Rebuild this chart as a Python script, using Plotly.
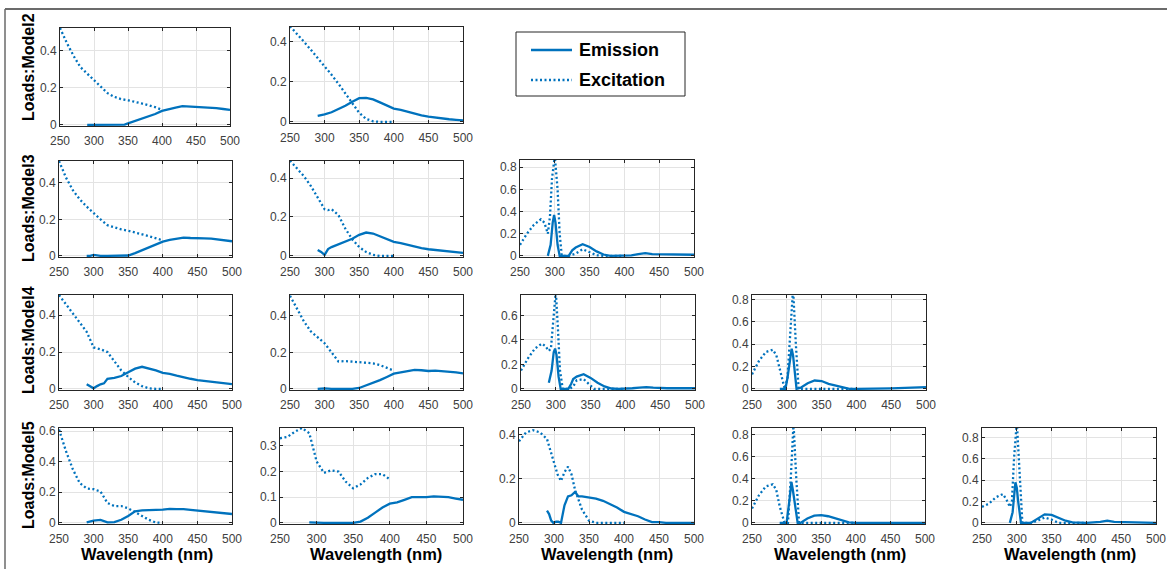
import plotly.graph_objects as go

W, H = 1167, 569
BLUE = "#0072BD"
FONT = "Liberation Sans, Arial, sans-serif"

# ---------------- data ----------------
wl_ex = [250, 260, 270, 280, 290, 300, 310, 320, 330, 340, 350, 360, 370, 380, 390, 400]

# Model2, component 1
m2c1_ex_x = wl_ex
m2c1_ex_y = [0.52, 0.44, 0.37, 0.31, 0.275, 0.24, 0.2, 0.17, 0.15, 0.138, 0.132, 0.125, 0.115, 0.105, 0.095, 0.08]
m2c1_em_x = [290, 300, 310, 320, 330, 340, 345, 350, 360, 370, 380, 390, 400, 410, 420, 430, 440, 450, 460, 470, 480, 490, 500]
m2c1_em_y = [0, 0, 0, 0, 0, 0, 0.001, 0.008, 0.02, 0.032, 0.045, 0.058, 0.075, 0.085, 0.093, 0.1, 0.098, 0.094, 0.095, 0.094, 0.09, 0.085, 0.08]

# Model2, component 2
m2c2_ex_x = wl_ex
m2c2_ex_y = [0.477, 0.44, 0.4, 0.36, 0.32, 0.28, 0.235, 0.19, 0.14, 0.09, 0.045, 0.015, 0.003, 0, 0, 0]
m2c2_em_x = [290, 300, 310, 320, 330, 340, 350, 360, 370, 380, 390, 400, 410, 420, 430, 440, 450, 460, 470, 480, 490, 500]
m2c2_em_y = [0.03, 0.037, 0.048, 0.062, 0.08, 0.1, 0.118, 0.12, 0.112, 0.097, 0.08, 0.066, 0.06, 0.05, 0.04, 0.032, 0.026, 0.021, 0.017, 0.013, 0.01, 0.007]

# Model3, component 1
m3c1_ex_x = wl_ex
m3c1_ex_y = [0.52, 0.43, 0.36, 0.31, 0.27, 0.234, 0.2, 0.168, 0.155, 0.145, 0.138, 0.13, 0.118, 0.108, 0.097, 0.085]
m3c1_em_x = [290, 295, 300, 305, 310, 320, 330, 340, 350, 360, 370, 380, 390, 400, 410, 420, 430, 440, 450, 460, 470, 480, 490, 500]
m3c1_em_y = [0, 0, 0.005, 0.002, 0, 0, 0, 0, 0.002, 0.015, 0.03, 0.045, 0.06, 0.078, 0.087, 0.095, 0.1, 0.098, 0.095, 0.096, 0.095, 0.09, 0.085, 0.08]

# Model3, component 2
m3c2_ex_x = [250, 260, 270, 280, 290, 300, 305, 310, 320, 330, 340, 350, 360, 370, 380, 390, 400]
m3c2_ex_y = [0.49, 0.45, 0.41, 0.36, 0.3, 0.24, 0.235, 0.24, 0.21, 0.14, 0.085, 0.045, 0.02, 0.005, 0, 0, 0]
m3c2_em_x = [290, 295, 300, 305, 310, 320, 330, 340, 350, 360, 370, 380, 390, 400, 410, 420, 430, 440, 450, 460, 470, 480, 490, 500]
m3c2_em_y = [0.03, 0.02, 0.005, 0.035, 0.045, 0.058, 0.072, 0.088, 0.108, 0.12, 0.115, 0.1, 0.085, 0.072, 0.066, 0.057, 0.047, 0.04, 0.034, 0.03, 0.026, 0.022, 0.018, 0.015]

# Model3, component 3
m3c3_ex_x = [250, 260, 270, 280, 285, 290, 293, 296, 300, 304, 307, 310, 320, 330, 340, 350, 360, 370, 380, 390, 400]
m3c3_ex_y = [0.1, 0.2, 0.28, 0.33, 0.3, 0.2, 0.35, 0.7, 0.9, 0.6, 0.2, 0, 0, 0.02, 0.06, 0.035, 0.005, 0, 0, 0, 0]
m3c3_em_x = [290, 294, 297, 299, 301, 304, 307, 310, 320, 325, 330, 340, 350, 360, 370, 380, 390, 400, 410, 420, 430, 440, 450, 460, 470, 480, 490, 500]
m3c3_em_y = [0, 0.1, 0.3, 0.37, 0.3, 0.1, 0, 0, 0, 0.05, 0.075, 0.105, 0.08, 0.04, 0.012, 0, 0, 0, 0.005, 0.015, 0.025, 0.015, 0.015, 0.015, 0.012, 0.01, 0.01, 0.01]

# Model4, component 1
m4c1_ex_x = wl_ex
m4c1_ex_y = [0.51, 0.46, 0.41, 0.36, 0.31, 0.225, 0.215, 0.2, 0.15, 0.1, 0.065, 0.035, 0.015, 0.003, 0, 0]
m4c1_em_x = [290, 295, 300, 305, 310, 315, 320, 330, 340, 350, 360, 370, 380, 390, 400, 410, 420, 430, 440, 450, 460, 470, 480, 490, 500]
m4c1_em_y = [0.025, 0.015, 0.003, 0.015, 0.025, 0.03, 0.055, 0.06, 0.07, 0.09, 0.11, 0.12, 0.112, 0.1, 0.087, 0.082, 0.072, 0.062, 0.055, 0.048, 0.043, 0.038, 0.034, 0.03, 0.026]

# Model4, component 2
m4c2_ex_x = wl_ex
m4c2_ex_y = [0.51, 0.44, 0.37, 0.315, 0.285, 0.25, 0.2, 0.15, 0.152, 0.15, 0.145, 0.142, 0.14, 0.13, 0.115, 0.1]
m4c2_em_x = [290, 300, 310, 320, 330, 340, 350, 360, 370, 380, 390, 400, 410, 420, 430, 440, 450, 460, 470, 480, 490, 500]
m4c2_em_y = [0, 0.003, 0, 0, 0, 0, 0.005, 0.018, 0.033, 0.048, 0.065, 0.083, 0.09, 0.097, 0.104, 0.102, 0.098, 0.1, 0.098, 0.095, 0.09, 0.085]

# Model4, component 3
m4c3_ex_x = [250, 260, 270, 280, 285, 290, 293, 296, 300, 303, 306, 310, 320, 325, 330, 340, 350, 355, 360, 380, 400]
m4c3_ex_y = [0.15, 0.25, 0.33, 0.37, 0.35, 0.31, 0.33, 0.55, 0.8, 0.5, 0.15, 0, 0, 0.02, 0.07, 0.08, 0.03, 0, 0, 0, 0]
m4c3_em_x = [290, 294, 297, 299, 301, 304, 307, 310, 318, 322, 325, 330, 340, 350, 360, 370, 380, 390, 400, 410, 420, 430, 440, 450, 460, 480, 500]
m4c3_em_y = [0.05, 0.15, 0.3, 0.33, 0.28, 0.1, 0, 0, 0, 0.04, 0.08, 0.1, 0.12, 0.09, 0.05, 0.02, 0.003, 0, 0, 0.005, 0.01, 0.015, 0.01, 0.005, 0.005, 0.005, 0.005]

# Model4, component 4
m4c4_ex_x = [250, 260, 270, 280, 285, 290, 297, 301, 305, 309, 313, 317, 320, 340, 360, 380, 400]
m4c4_ex_y = [0.13, 0.25, 0.33, 0.35, 0.3, 0.18, 0, 0.1, 0.5, 0.9, 0.4, 0, 0, 0, 0, 0, 0]
m4c4_em_x = [290, 298, 301, 303, 307, 309, 311, 314, 320, 330, 340, 350, 360, 370, 380, 390, 400, 420, 440, 450, 460, 470, 480, 490, 500]
m4c4_em_y = [0, 0, 0.1, 0.2, 0.36, 0.3, 0.15, 0, 0.01, 0.05, 0.075, 0.07, 0.045, 0.03, 0.01, 0, 0, 0, 0, 0.005, 0.007, 0.01, 0.012, 0.013, 0.015]

# Model5, component 1
m5c1_ex_x = wl_ex
m5c1_ex_y = [0.61, 0.47, 0.35, 0.26, 0.225, 0.22, 0.205, 0.13, 0.11, 0.11, 0.095, 0.07, 0.04, 0.02, 0.002, 0]
m5c1_em_x = [290, 300, 310, 320, 330, 340, 350, 360, 370, 380, 390, 400, 410, 420, 430, 440, 450, 460, 470, 480, 490, 500]
m5c1_em_y = [0.003, 0.015, 0.02, 0.003, 0.005, 0.02, 0.045, 0.075, 0.082, 0.085, 0.085, 0.086, 0.092, 0.09, 0.09, 0.085, 0.08, 0.077, 0.073, 0.068, 0.063, 0.058]

# Model5, component 2
m5c2_ex_x = wl_ex
m5c2_ex_y = [0.33, 0.335, 0.355, 0.37, 0.35, 0.24, 0.195, 0.205, 0.2, 0.16, 0.135, 0.15, 0.175, 0.19, 0.19, 0.17]
m5c2_em_x = [290, 300, 310, 320, 330, 340, 350, 360, 370, 380, 390, 400, 410, 420, 430, 440, 450, 460, 470, 480, 490, 500]
m5c2_em_y = [0.002, 0, 0, 0, 0, 0, 0, 0.005, 0.02, 0.04, 0.06, 0.075, 0.08, 0.09, 0.1, 0.1, 0.1, 0.103, 0.102, 0.1, 0.095, 0.09]

# Model5, component 3
m5c3_ex_x = [250, 260, 270, 280, 290, 300, 305, 310, 315, 320, 325, 330, 340, 350, 360, 370, 380, 390, 400]
m5c3_ex_y = [0.37, 0.41, 0.42, 0.41, 0.38, 0.27, 0.22, 0.19, 0.23, 0.255, 0.22, 0.15, 0.06, 0.01, 0, 0, 0, 0, 0]
m5c3_em_x = [290, 293, 296, 299, 303, 306, 310, 315, 320, 325, 330, 335, 340, 350, 360, 370, 380, 390, 400, 410, 420, 430, 440, 450, 460, 480, 500]
m5c3_em_y = [0.055, 0.04, 0.01, 0, 0.005, 0.005, 0, 0.08, 0.12, 0.125, 0.14, 0.12, 0.12, 0.115, 0.11, 0.1, 0.085, 0.07, 0.05, 0.04, 0.03, 0.015, 0.003, 0.003, 0, 0, 0]

# Model5, component 4
m5c4_ex_x = [250, 260, 270, 280, 285, 290, 297, 302, 306, 310, 314, 318, 320, 340, 360, 380, 400]
m5c4_ex_y = [0.13, 0.25, 0.33, 0.35, 0.3, 0.15, 0, 0, 0.4, 0.9, 0.4, 0, 0, 0, 0, 0, 0]
m5c4_em_x = [290, 300, 304, 307, 309, 312, 316, 320, 330, 340, 350, 360, 370, 380, 390, 400, 450, 500]
m5c4_em_y = [0, 0, 0.2, 0.37, 0.3, 0.15, 0, 0, 0.04, 0.065, 0.07, 0.06, 0.04, 0.02, 0.005, 0, 0, 0]

# Model5, component 5
m5c5_ex_x = [250, 260, 270, 280, 285, 290, 293, 296, 300, 304, 308, 320, 330, 340, 350, 360, 380, 400]
m5c5_ex_y = [0.15, 0.18, 0.24, 0.27, 0.22, 0.15, 0.2, 0.6, 0.95, 0.5, 0, 0, 0.02, 0.05, 0.03, 0, 0, 0]
m5c5_em_x = [290, 294, 298, 300, 302, 306, 320, 330, 340, 350, 360, 370, 380, 390, 400, 420, 430, 440, 460, 480, 500]
m5c5_em_y = [0, 0.1, 0.38, 0.33, 0.2, 0, 0, 0.04, 0.08, 0.075, 0.05, 0.02, 0.005, 0, 0, 0.01, 0.02, 0.01, 0.005, 0, 0]

row_labels = ["Loads:Model2", "Loads:Model3", "Loads:Model4", "Loads:Model5"]
x_title = "Wavelength (nm)"
legend_names = ["Emission", "Excitation"]
x_ticks = [250, 300, 350, 400, 450, 500]

panels = [
    # (row, col, ex_x, ex_y, em_x, em_y, y_max, y_dtick)
    (1, 1, m2c1_ex_x, m2c1_ex_y, m2c1_em_x, m2c1_em_y, 0.52, 0.2),
    (1, 2, m2c2_ex_x, m2c2_ex_y, m2c2_em_x, m2c2_em_y, 0.473, 0.2),
    (2, 1, m3c1_ex_x, m3c1_ex_y, m3c1_em_x, m3c1_em_y, 0.52, 0.2),
    (2, 2, m3c2_ex_x, m3c2_ex_y, m3c2_em_x, m3c2_em_y, 0.488, 0.2),
    (2, 3, m3c3_ex_x, m3c3_ex_y, m3c3_em_x, m3c3_em_y, 0.865, 0.2),
    (3, 1, m4c1_ex_x, m4c1_ex_y, m4c1_em_x, m4c1_em_y, 0.51, 0.2),
    (3, 2, m4c2_ex_x, m4c2_ex_y, m4c2_em_x, m4c2_em_y, 0.514, 0.2),
    (3, 3, m4c3_ex_x, m4c3_ex_y, m4c3_em_x, m4c3_em_y, 0.768, 0.2),
    (3, 4, m4c4_ex_x, m4c4_ex_y, m4c4_em_x, m4c4_em_y, 0.84, 0.2),
    (4, 1, m5c1_ex_x, m5c1_ex_y, m5c1_em_x, m5c1_em_y, 0.62, 0.2),
    (4, 2, m5c2_ex_x, m5c2_ex_y, m5c2_em_x, m5c2_em_y, 0.37, 0.1),
    (4, 3, m5c3_ex_x, m5c3_ex_y, m5c3_em_x, m5c3_em_y, 0.43, 0.2),
    (4, 4, m5c4_ex_x, m5c4_ex_y, m5c4_em_x, m5c4_em_y, 0.86, 0.2),
    (4, 5, m5c5_ex_x, m5c5_ex_y, m5c5_em_x, m5c5_em_y, 0.89, 0.2),
]

# ---------------- layout geometry (pixels: left, top, right, bottom) ----------------
boxes = {
    (1, 1): (60, 28, 230, 126), (1, 2): (290, 27, 463, 123),
    (2, 1): (59, 161, 232, 257), (2, 2): (290, 161, 463, 257), (2, 3): (520, 160, 694, 257),
    (3, 1): (59, 295, 232, 390), (3, 2): (290, 295, 463, 390), (3, 3): (521, 295, 695, 390),
    (3, 4): (752, 295, 926, 390),
    (4, 1): (59, 428, 232, 524), (4, 2): (280, 428, 463, 524), (4, 3): (519, 428, 694, 524),
    (4, 4): (752, 428, 925, 524), (4, 5): (982, 428, 1156, 524),
}
row_label_y = {1: 67, 2: 208, 3: 340, 4: 475}
xlabel_x = {1: 147, 2: 376, 3: 607, 4: 840, 5: 1070}


def px(x):
    return x / W


def py(y):
    return 1 - y / H


fig = go.Figure()
layout = {}
AX = "#262626"
GRID = "#e3e3e3"
TICKFONT = dict(family=FONT, size=12, color="#404040")

for i, (r, c, exx, exy, emx, emy, ymax, ydt) in enumerate(panels, start=1):
    l, t, rr, b = boxes[(r, c)]
    xa = "x" if i == 1 else f"x{i}"
    ya = "y" if i == 1 else f"y{i}"
    fig.add_trace(go.Scatter(x=emx, y=emy, mode="lines", name=legend_names[0],
                             line=dict(color=BLUE, width=2.3),
                             xaxis=xa, yaxis=ya, showlegend=False))
    fig.add_trace(go.Scatter(x=exx, y=exy, mode="lines", name=legend_names[1],
                             line=dict(color=BLUE, width=2.3, dash="2px,2.5px"),
                             xaxis=xa, yaxis=ya, showlegend=False))
    layout["xaxis" if i == 1 else f"xaxis{i}"] = dict(
        domain=[px(l), px(rr)], anchor=ya, range=[250, 500],
        tickvals=x_ticks, showgrid=True, gridcolor=GRID, gridwidth=1,
        showline=True, mirror="ticks", linecolor=AX, linewidth=1,
        ticks="inside", ticklen=3, tickcolor=AX, tickfont=TICKFONT,
        ticklabelstandoff=4,
        zeroline=False, fixedrange=True, automargin=False)
    layout["yaxis" if i == 1 else f"yaxis{i}"] = dict(
        domain=[py(b), py(t)], anchor=xa, range=[-ymax * 0.012, ymax],
        tick0=0, dtick=ydt, showgrid=True, gridcolor=GRID, gridwidth=1,
        showline=True, mirror="ticks", linecolor=AX, linewidth=1,
        ticks="inside", ticklen=3, tickcolor=AX, tickfont=TICKFONT,
        zeroline=False, fixedrange=True, automargin=False)

annotations = []
for r, txt in enumerate(row_labels, start=1):
    annotations.append(dict(text=txt, xref="paper", yref="paper",
                            x=px(28), y=py(row_label_y[r]), textangle=-90,
                            showarrow=False, xanchor="center", yanchor="middle",
                            font=dict(family=FONT, size=16, color="#000000", weight="bold")))
for c in range(1, 6):
    annotations.append(dict(text=x_title, xref="paper", yref="paper",
                            x=px(xlabel_x[c]), y=py(554),
                            showarrow=False, xanchor="center", yanchor="middle",
                            font=dict(family=FONT, size=16.5, color="#000000", weight="bold")))

# legend (drawn as a MATLAB-style box)
leg_l, leg_t, leg_r, leg_b = 516, 32, 685, 96
leg_rows = [50, 80]
for name, yy in zip(legend_names, leg_rows):
    annotations.append(dict(text=name, xref="paper", yref="paper",
                            x=px(577), y=py(yy), showarrow=False,
                            xanchor="left", yanchor="middle",
                            font=dict(family=FONT, size=18, color="#000000", weight="bold")))

shapes = [
    dict(type="line", xref="paper", yref="paper", x0=px(5), x1=1.0, y0=py(9), y1=py(9),
         line=dict(color="#3a3a3a", width=1.5)),
    dict(type="line", xref="paper", yref="paper", x0=px(5), x1=px(5), y0=py(9), y1=0,
         line=dict(color="#6a6a6a", width=1.5)),
    dict(type="rect", xref="paper", yref="paper", x0=px(leg_l), x1=px(leg_r),
         y0=py(leg_b), y1=py(leg_t), line=dict(color="#262626", width=1),
         fillcolor="white", layer="above"),
    dict(type="line", xref="paper", yref="paper", x0=px(531), x1=px(572),
         y0=py(leg_rows[0]), y1=py(leg_rows[0]), line=dict(color=BLUE, width=2.3)),
    dict(type="line", xref="paper", yref="paper", x0=px(531), x1=px(572),
         y0=py(leg_rows[1]), y1=py(leg_rows[1]),
         line=dict(color=BLUE, width=2.3, dash="2px,2.5px")),
]

fig.update_layout(
    width=W, height=H, margin=dict(l=0, r=0, t=0, b=0, pad=0, autoexpand=False),
    paper_bgcolor="white", plot_bgcolor="white", showlegend=False,
    annotations=annotations, shapes=shapes,
    **layout,
)

fig.write_html("out.html")
